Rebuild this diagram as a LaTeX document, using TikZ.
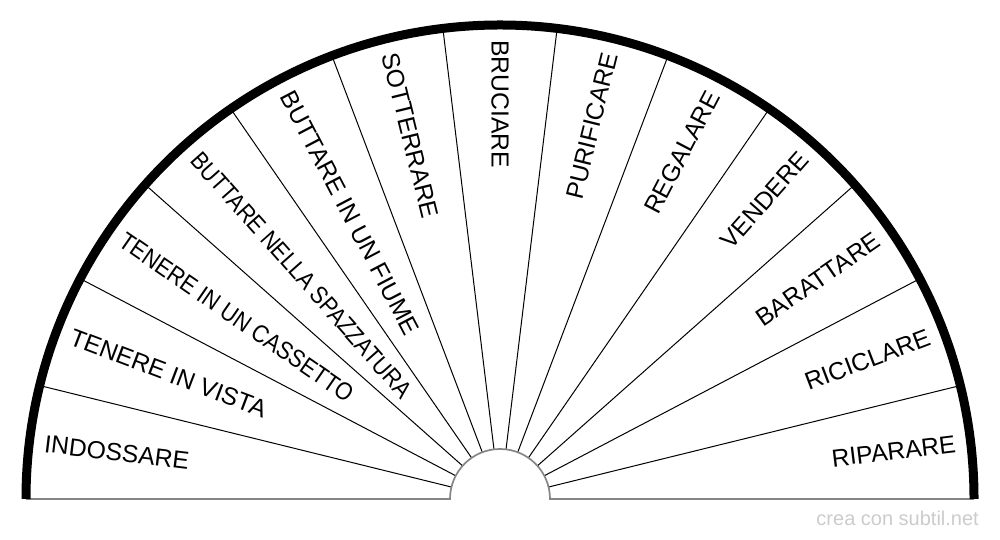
\documentclass[tikz,border=0pt]{standalone}
\usepackage{fontspec}
\setmainfont{Liberation Sans}
\begin{document}
\begin{tikzpicture}[x=1pt,y=1pt,
  lab/.style={font=\fontsize{24.7}{24.7}\selectfont, inner sep=0pt, text=black},
  spoke/.style={line width=1pt, draw=black},
  rim/.style={line width=9pt, draw=black},
  baseline/.style={line width=1.7pt, draw=gray!95},
  wmark/.style={font=\fontsize{20}{20}\selectfont, text=gray!40, inner sep=0pt}]
\useasboundingbox (0,0) rectangle (1000,540);
\fill[white] (0,0) rectangle (1000,540);
\coordinate (c) at (500,41);
% spokes
\foreach \k in {1,...,12}{
  \draw[spoke] ([shift={(\k*180/13:50)}]c) -- ([shift={(\k*180/13:474)}]c);
}
% base line and inner arc
\draw[baseline] ([shift={(180:474)}]c) -- ([shift={(180:50)}]c) arc (180:0:50) -- ([shift={(0:474)}]c);
% rim
\draw[rim] ([shift={(180:474)}]c) arc (180:0:474);
% labels
\foreach \i/\s/\t in {0/1/INDOSSARE,1/1/TENERE IN VISTA,2/0.885/TENERE IN UN CASSETTO,3/0.875/BUTTARE NELLA SPAZZATURA,4/1/BUTTARE IN UN FIUME,5/1/SOTTERRARE,6/1/BRUCIARE,7/1/PURIFICARE,8/1/REGALARE,9/1/VENDERE,10/1/BARATTARE,11/1/RICICLARE,12/1/RIPARARE}{
  \pgfmathsetmacro{\ang}{180-(\i+0.5)*180/13}
  \ifnum\i<7
    \node[lab, rotate=\ang-180, anchor=west] (l\i) at ([shift={(\ang:459)}]c) {\scalebox{\s}[1]{\t}};
  \else
    \node[lab, rotate=\ang, anchor=east] (l\i) at ([shift={(\ang:459)}]c) {\scalebox{\s}[1]{\t}};
  \fi
}
\node[wmark, anchor=base east] (wm) at (979,14) {crea con subtil.net};
\end{tikzpicture}
\end{document}
